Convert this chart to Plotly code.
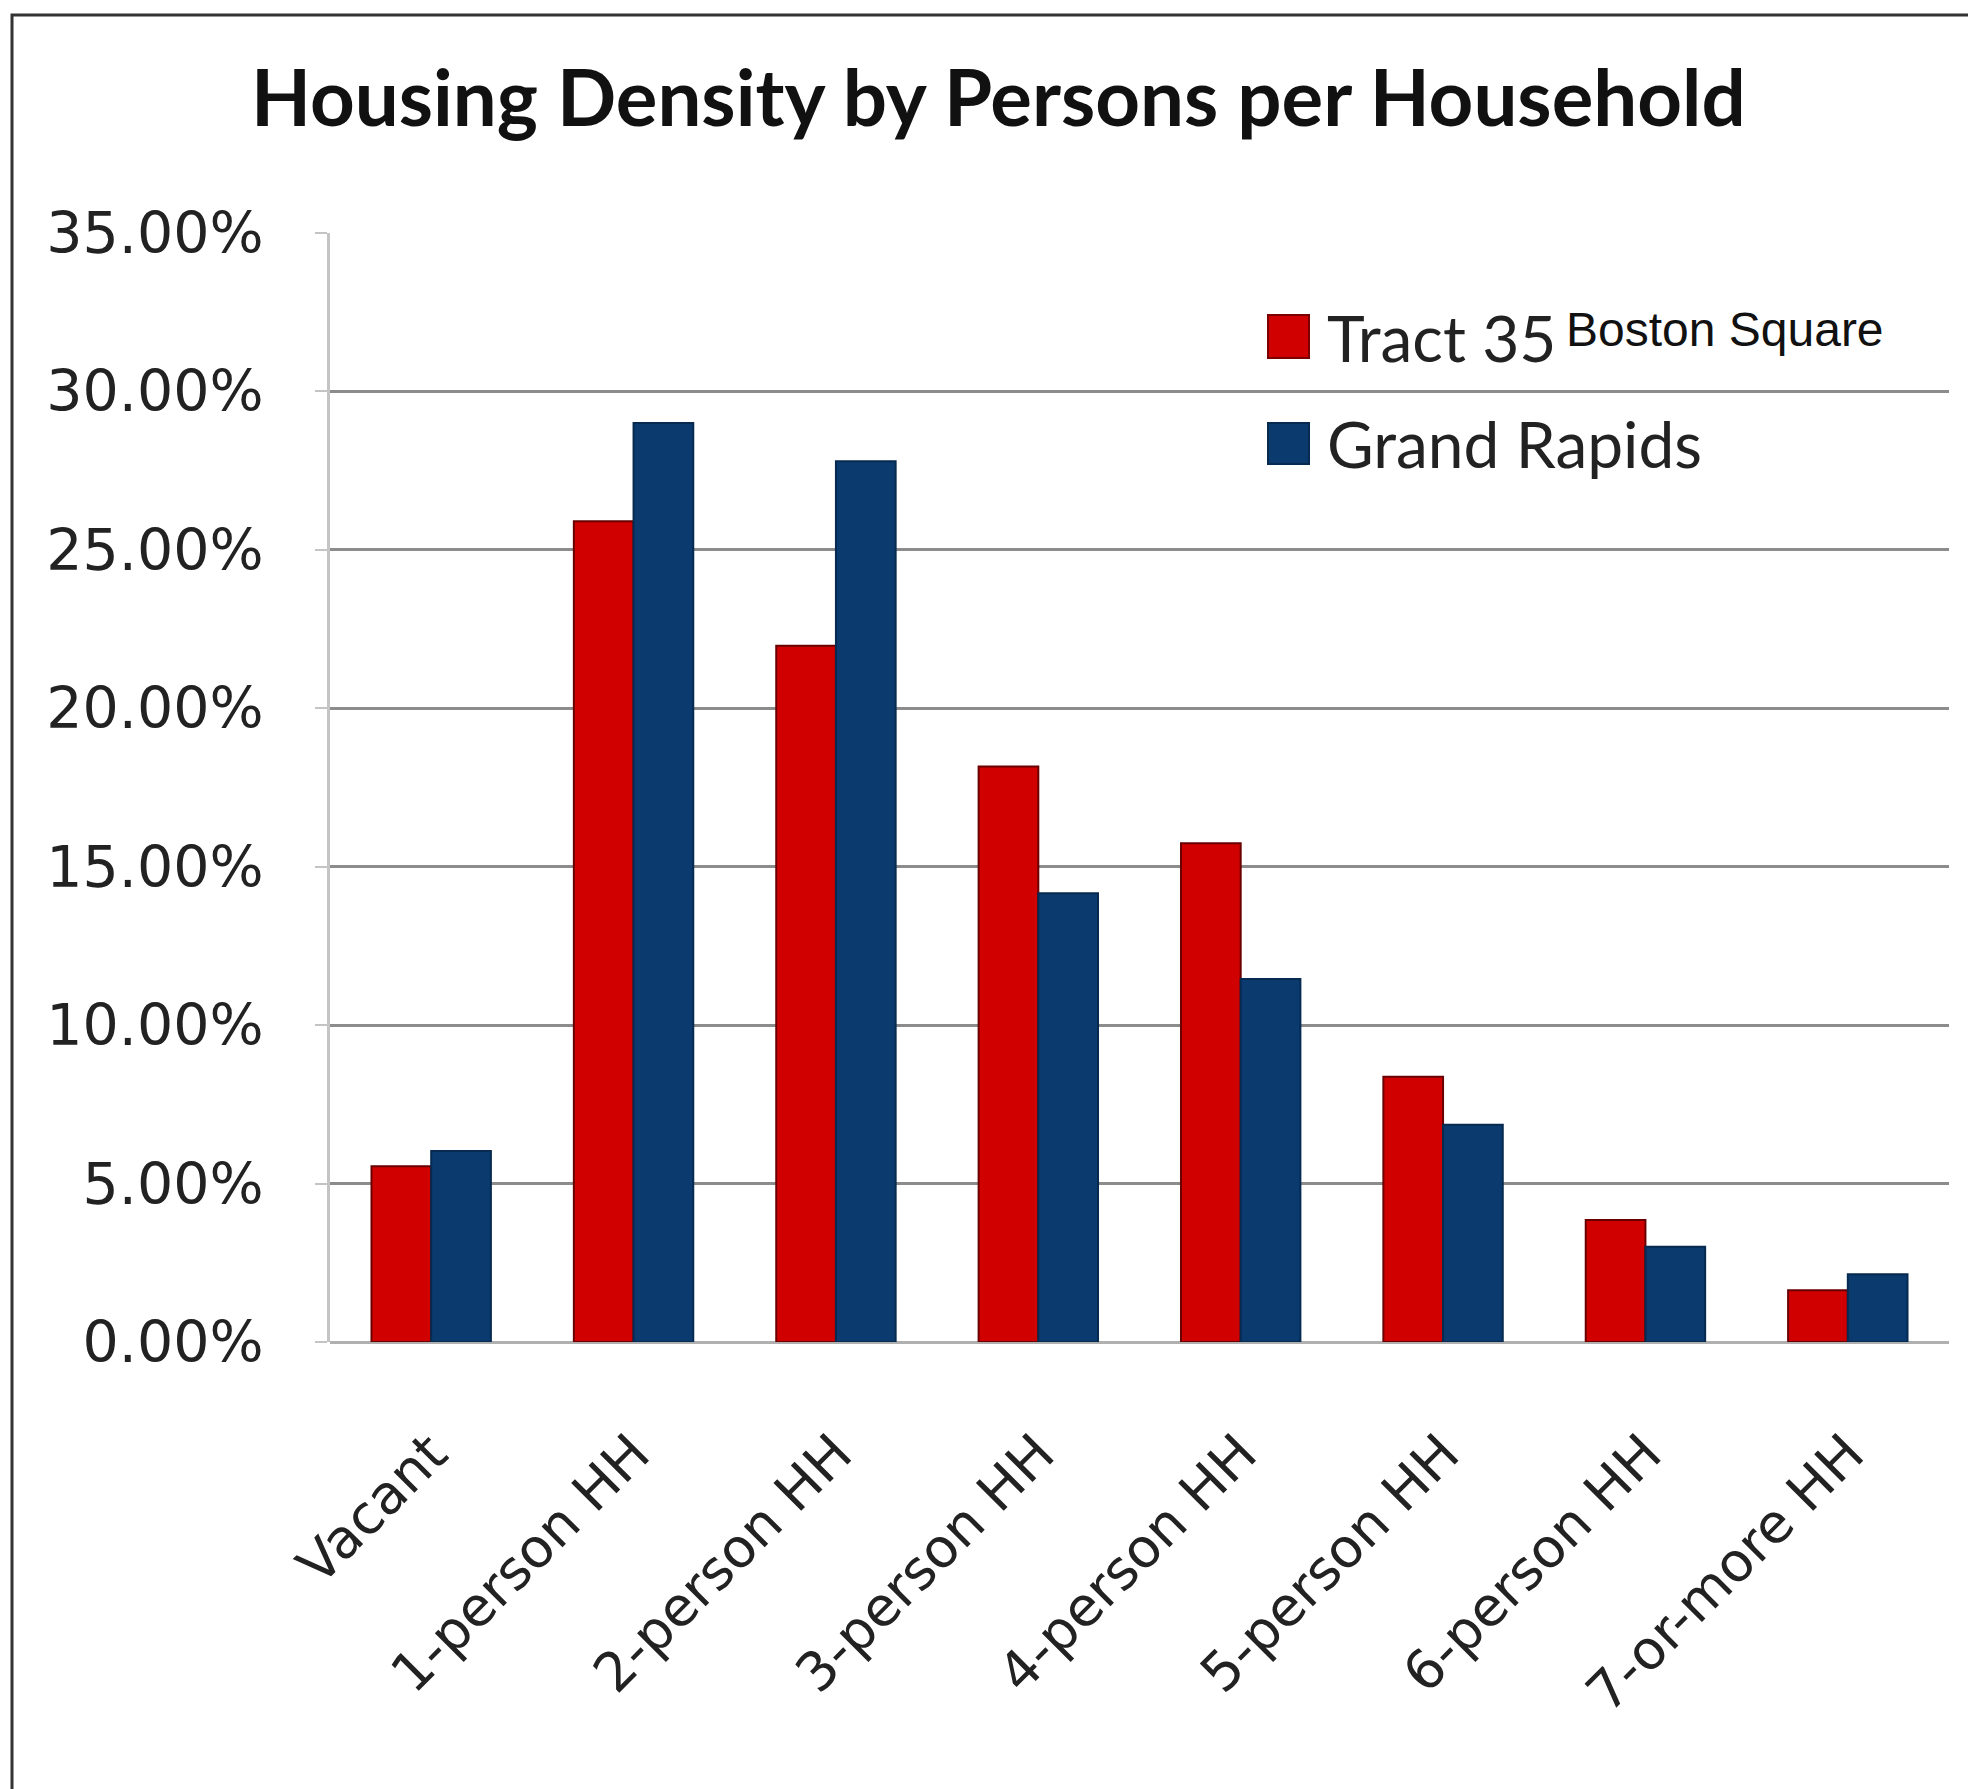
import plotly.graph_objects as go

categories = ["Vacant", "1-person HH", "2-person HH", "3-person HH",
              "4-person HH", "5-person HH", "6-person HH", "7-or-more HH"]
tract35 = [0.0555, 0.259, 0.2197, 0.1816, 0.1574, 0.0837, 0.0385, 0.0163]
grand_rapids = [0.0603, 0.290, 0.278, 0.1416, 0.1146, 0.0686, 0.0301, 0.0214]
series_names = ["Tract 35", "Grand Rapids"]
subtitle = "Boston Square"
title_text = "Housing Density by Persons per Household"

W, H = 1968, 1789
L, R, T, B = 330, 19, 233, 447
PW, PH = W - L - R, H - T - B


def px(x):
    return (x - L) / PW


def py(y):
    return (H - B - y) / PH


fig = go.Figure()
fig.add_trace(go.Bar(x=categories, y=tract35, name=series_names[0],
                     marker=dict(color="#D00000", line=dict(color="#6a0000", width=2)),
                     showlegend=False))
fig.add_trace(go.Bar(x=categories, y=grand_rapids, name=series_names[1],
                     marker=dict(color="#0A3A6E", line=dict(color="#062a50", width=2)),
                     showlegend=False))

shapes = [
    # outer border
    dict(type="rect", xref="paper", yref="paper", x0=px(12), x1=px(W + 20),
         y0=py(H + 20), y1=py(15), line=dict(color="#333333", width=3), layer="below"),
    # legend swatches
    dict(type="rect", xref="paper", yref="paper", x0=px(1268), x1=px(1309),
         y0=py(358), y1=py(315), fillcolor="#D00000", line=dict(color="#7a0000", width=2)),
    dict(type="rect", xref="paper", yref="paper", x0=px(1268), x1=px(1309),
         y0=py(464), y1=py(423), fillcolor="#0A3A6E", line=dict(color="#062a50", width=2)),
]

annotations = [
    dict(text="<b>" + title_text + "</b>", xref="paper", yref="paper",
         x=px(998), y=py(96), xanchor="center", yanchor="middle", showarrow=False,
         font=dict(family="Lato", size=78, color="#111111")),
    dict(text=series_names[0], xref="paper", yref="paper",
         x=px(1325), y=py(337), xanchor="left", yanchor="middle", showarrow=False,
         font=dict(family="Lato", size=64, color="#222222")),
    dict(text=subtitle, xref="paper", yref="paper",
         x=px(1564), y=py(330), xanchor="left", yanchor="middle", showarrow=False,
         font=dict(family="Liberation Sans", size=48, color="#111111")),
    dict(text=series_names[1], xref="paper", yref="paper",
         x=px(1325), y=py(443), xanchor="left", yanchor="middle", showarrow=False,
         font=dict(family="Lato", size=64, color="#222222")),
]

fig.update_layout(
    width=W, height=H,
    margin=dict(l=L, r=R, t=T, b=B, autoexpand=False),
    paper_bgcolor="white", plot_bgcolor="white",
    barmode="group", bargap=0.41, bargroupgap=0,
    shapes=shapes, annotations=annotations,
    showlegend=False,
)
fig.update_yaxes(range=[0, 0.35], dtick=0.05, tickformat=".2%",
                 showgrid=True, gridcolor="#8c8c8c", gridwidth=3,
                 showline=True, linecolor="#c4c4c4", linewidth=3,
                 ticks="outside", ticklen=12, tickcolor="#c4c4c4", tickwidth=2,
                 zeroline=True, zerolinecolor="#b0b0b0", zerolinewidth=3,
                 ticklabelstandoff=40,
                 tickfont=dict(family="DejaVu Sans", size=57, color="#222222"))
fig.update_xaxes(tickangle=-45, showgrid=False, showline=False,
                 ticklabelstandoff=68,
                 tickfont=dict(family="DejaVu Sans", size=54, color="#222222"))

fig.write_html("out.html")
